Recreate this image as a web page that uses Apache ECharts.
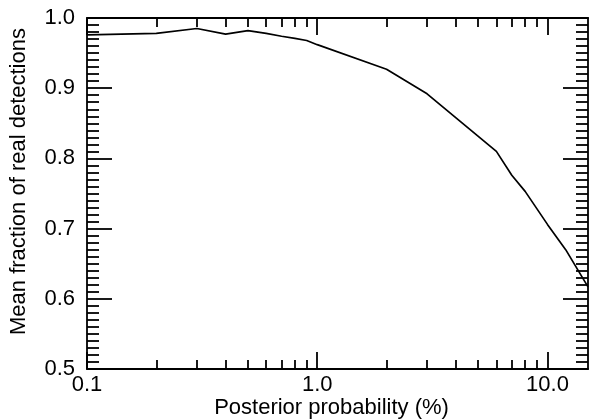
<!DOCTYPE html>
<html>
<head>
<meta charset="utf-8">
<script src="https://cdn.jsdelivr.net/npm/echarts@6/dist/echarts.min.js"></script>
<style>
  html, body { margin: 0; padding: 0; background: #fff; }
  #chart { width: 591px; height: 420px; }
</style>
</head>
<body>
<div id="chart"></div>
<script>
// posterior probability (%) and mean fraction of real detections
const probability = [0.1, 0.2, 0.3, 0.4, 0.5, 0.6, 0.7, 0.8, 0.9, 1.0, 2.0, 3.0, 6.0, 7.0, 8.0, 10.0, 12.0, 15.0];
const fractionReal = [0.976, 0.978, 0.985, 0.977, 0.982, 0.978, 0.974, 0.971, 0.968, 0.962, 0.927, 0.892, 0.810, 0.776, 0.753, 0.706, 0.670, 0.617];

// tick positions on the log axis
const majorTicksX = [0.1, 1, 10];
const minorTicksX = [0.2, 0.3, 0.4, 0.5, 0.6, 0.7, 0.8, 0.9, 2, 3, 4, 5, 6, 7, 8, 9];

const font = 'Liberation Sans';
const lw = 1.8;

const chart = echarts.init(document.getElementById('chart'));

// one log axis per side and per tick size
const logAxis = (position, ticks, len, withLine, withLabel) => ({
  type: 'log',
  logBase: 10,
  min: 0.1,
  max: 15,
  position: position,
  axisLine: { show: withLine, onZero: false, lineStyle: { color: '#000', width: lw } },
  axisTick: { show: true, inside: true, length: len, customValues: ticks, lineStyle: { color: '#000', width: lw } },
  axisLabel: {
    show: withLabel,
    customValues: ticks,
    margin: 5,
    color: '#000',
    fontSize: 22,
    fontFamily: font,
    formatter: v => Number(v).toFixed(1)
  },
  splitLine: { show: false },
  minorTick: { show: false }
});

const valueAxis = (position, withLabel) => ({
  type: 'value',
  min: 0.5,
  max: 1.0,
  interval: 0.1,
  position: position,
  axisLine: { show: true, onZero: false, lineStyle: { color: '#000', width: lw } },
  axisTick: { show: true, inside: true, length: 25, lineStyle: { color: '#000', width: lw } },
  minorTick: { show: true, splitNumber: 10, length: 12, lineStyle: { color: '#000', width: lw } },
  axisLabel: {
    show: withLabel,
    margin: 12,
    color: '#000',
    fontSize: 22,
    fontFamily: font,
    formatter: v => v.toFixed(1)
  },
  splitLine: { show: false },
  minorSplitLine: { show: false }
});

const xBottom = logAxis('bottom', majorTicksX, 17, true, true);
xBottom.name = 'Posterior probability (%)';
xBottom.nameLocation = 'middle';
xBottom.nameGap = 28;
xBottom.nameMoveOverlap = false;
xBottom.nameTextStyle = { color: '#000', fontSize: 22, fontFamily: font, padding: [0, 12, 0, 0] };

const yLeft = valueAxis('left', true);
yLeft.name = 'Mean fraction of real detections';
yLeft.nameLocation = 'middle';
yLeft.nameGap = 57;
yLeft.nameMoveOverlap = false;
yLeft.nameTextStyle = { color: '#000', fontSize: 22, fontFamily: font, padding: [0, 0, 0, 24] };

const option = {
  animation: false,
  backgroundColor: '#fff',
  grid: { left: 87, right: 3, top: 18, bottom: 51, containLabel: false, outerBoundsMode: 'none' },
  xAxis: [
    xBottom,
    logAxis('bottom', minorTicksX, 9, false, false),
    logAxis('top', majorTicksX, 17, true, false),
    logAxis('top', minorTicksX, 9, false, false)
  ],
  yAxis: [
    yLeft,
    valueAxis('right', false)
  ],
  series: [{
    type: 'line',
    xAxisIndex: 0,
    yAxisIndex: 0,
    data: probability.map((p, i) => [p, fractionReal[i]]),
    showSymbol: false,
    lineStyle: { color: '#000', width: 1.7 },
    itemStyle: { color: '#000' }
  }]
};

chart.setOption(option);
</script>
</body>
</html>
